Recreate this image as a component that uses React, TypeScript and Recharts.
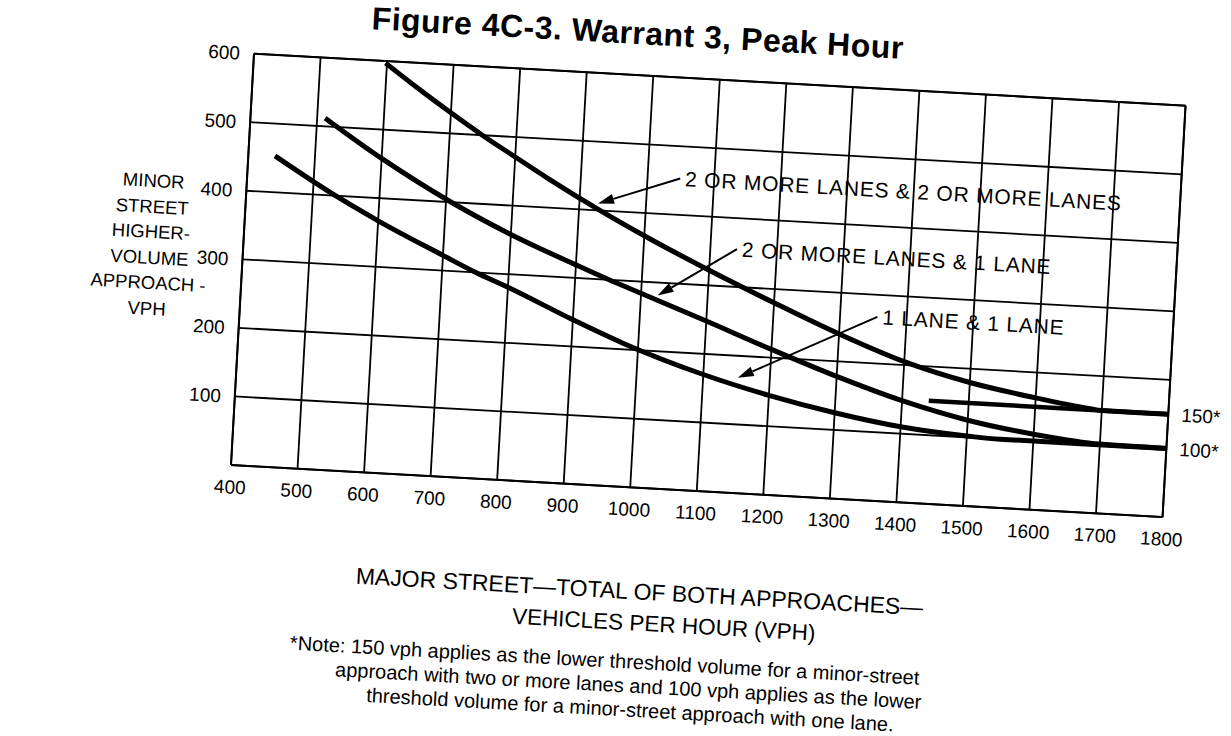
import React from 'react';
import { LineChart, Line, XAxis, YAxis, CartesianGrid, ReferenceLine, ReferenceDot } from 'recharts';

const xTicks = [400, 500, 600, 700, 800, 900, 1000, 1100, 1200, 1300, 1400, 1500, 1600, 1700, 1800];
const yTicks = [100, 200, 300, 400, 500, 600];

const twoPlusTwoPlus = [
  { x: 598, y: 597 }, { x: 650, y: 562 }, { x: 700, y: 530 }, { x: 749, y: 500 }, { x: 800, y: 471 },
  { x: 850, y: 443 }, { x: 932, y: 400 }, { x: 1000, y: 367 }, { x: 1100, y: 322 }, { x: 1200, y: 280 },
  { x: 1300, y: 240 }, { x: 1400, y: 205 }, { x: 1500, y: 180 }, { x: 1600, y: 163 }, { x: 1680, y: 152 },
  { x: 1700, y: 150 }, { x: 1800, y: 150 },
];
const twoPlusOne = [
  { x: 512, y: 512 }, { x: 600, y: 458 }, { x: 708, y: 400 }, { x: 800, y: 358 }, { x: 900, y: 319 },
  { x: 951, y: 300 }, { x: 1000, y: 283 }, { x: 1100, y: 248 }, { x: 1200, y: 212 }, { x: 1300, y: 178 },
  { x: 1400, y: 148 }, { x: 1500, y: 125 }, { x: 1600, y: 110 }, { x: 1700, y: 101 }, { x: 1800, y: 100 },
];
const oneOne = [
  { x: 440, y: 453 }, { x: 534, y: 400 }, { x: 600, y: 367 }, { x: 700, y: 322 }, { x: 750, y: 300 },
  { x: 800, y: 281 }, { x: 900, y: 239 }, { x: 977, y: 209 }, { x: 1100, y: 170 }, { x: 1200, y: 145 },
  { x: 1300, y: 125 }, { x: 1400, y: 110 }, { x: 1500, y: 102 }, { x: 1550, y: 100 }, { x: 1800, y: 100 },
];
const threshold150 = [{ x: 1440, y: 150 }, { x: 1800, y: 150 }];

const annotations = [
  { text: '2 OR MORE LANES & 2 OR MORE LANES', tail: { x: 1049, y: 453 }, tip: { x: 928, y: 410 } },
  { text: '2 OR MORE LANES & 1 LANE', tail: { x: 1140, y: 355 }, tip: { x: 1025, y: 281 } },
  { text: '1 LANE & 1 LANE', tail: { x: 1356, y: 268 }, tip: { x: 1152, y: 168 } },
];
const thresholdLabels = [
  { y: 150, text: '150*' },
  { y: 100, text: '100*' },
];

const yTitle = ['MINOR', 'STREET', 'HIGHER-', 'VOLUME', 'APPROACH -', 'VPH'];
const xTitle = ['MAJOR STREET\u2014TOTAL OF BOTH APPROACHES\u2014', 'VEHICLES PER HOUR (VPH)'];
const note = [
  '*Note: 150 vph applies as the lower threshold volume for a minor-street',
  'approach with two or more lanes and 100 vph applies as the lower',
  'threshold volume for a minor-street approach with one lane.',
];
const title = 'Figure 4C-3.  Warrant 3, Peak Hour';

const FONT = '"Liberation Sans", Arial, Helvetica, sans-serif';

const ArrowShape = (props: any) => {
  const { x1, y1, x2, y2 } = props;
  if ([x1, y1, x2, y2].some((v) => typeof v !== 'number' || isNaN(v))) return null;
  const ang = Math.atan2(y2 - y1, x2 - x1);
  const len = 16;
  const w = 5;
  const bx = x2 - len * Math.cos(ang);
  const by = y2 - len * Math.sin(ang);
  const px = -Math.sin(ang) * w;
  const py = Math.cos(ang) * w;
  return (
    <g>
      <line x1={x1} y1={y1} x2={bx} y2={by} stroke="#000" strokeWidth={2} />
      <polygon points={`${x2},${y2} ${bx + px},${by + py} ${bx - px},${by - py}`} fill="#000" />
    </g>
  );
};

const Txt = ({ x, y, children, size, bold, anchor = 'center', ls = 0 }: any) => (
  <div
    style={{
      position: 'absolute',
      left: x,
      top: y,
      transform: anchor === 'center' ? 'translate(-50%, -50%)' : anchor === 'end' ? 'translate(-100%, -50%)' : 'translate(0, -50%)',
      whiteSpace: 'nowrap',
      fontSize: size,
      fontWeight: bold ? 700 : 400,
      lineHeight: 1,
      letterSpacing: ls,
      fontFamily: FONT,
      color: '#000',
    }}
  >
    {children}
  </div>
);

export default function App() {
  return (
    <div style={{ position: 'absolute', left: 0, top: 0, width: 1231, height: 736, overflow: 'hidden', background: '#fff' }}>
      <div
        style={{
          position: 'absolute',
          left: 0,
          top: 0,
          width: 1231,
          height: 736,
          transform: 'rotate(3.2deg)',
          transformOrigin: '231px 465px',
        }}
      >
        <Txt x={613} y={11} size={32} bold ls={0.5}>{title}</Txt>
        {yTitle.map((t, i) => (
          <Txt key={t} x={138} y={186 + i * 25.5} size={18.5}>{t}</Txt>
        ))}
        <Txt x={646} y={569} size={23}>{xTitle[0]}</Txt>
        <Txt x={672} y={601} size={22.5}>{xTitle[1]}</Txt>
        <Txt x={615} y={639} size={20}>{note[0]}</Txt>
        <Txt x={640} y={663} size={20}>{note[1]}</Txt>
        <Txt x={643} y={687} size={20}>{note[2]}</Txt>
        <LineChart
          width={1231}
          height={736}
          margin={{ top: 53, right: 67, bottom: 231, left: 171 }}
          style={{ position: 'absolute', left: 0, top: 0, fontFamily: FONT }}
        >
          <CartesianGrid stroke="#000" strokeWidth={1.8} />
          <XAxis
            dataKey="x"
            type="number"
            domain={[400, 1800]}
            ticks={xTicks}
            interval={0}
            height={40}
            tickLine={false}
            tickSize={0}
            tickMargin={15}
            axisLine={{ stroke: '#000', strokeWidth: 2 }}
            tick={{ fill: '#000', fontSize: 19, fontFamily: FONT }}
            allowDataOverflow
          />
          <YAxis
            type="number"
            domain={[0, 600]}
            ticks={yTicks}
            interval={0}
            width={60}
            tickLine={false}
            tickSize={0}
            tickMargin={14}
            axisLine={{ stroke: '#000', strokeWidth: 2 }}
            tick={{ fill: '#000', fontSize: 19, fontFamily: FONT }}
            allowDataOverflow
          />
          <ReferenceLine x={1800} stroke="#000" strokeWidth={2} />
          <ReferenceLine y={600} stroke="#000" strokeWidth={2} />
          <Line data={threshold150} dataKey="y" type="linear" stroke="#000" strokeWidth={4.5} dot={false} isAnimationActive={false} />
          <Line data={twoPlusTwoPlus} dataKey="y" type="monotone" stroke="#000" strokeWidth={5} dot={false} isAnimationActive={false} />
          <Line data={twoPlusOne} dataKey="y" type="monotone" stroke="#000" strokeWidth={5} dot={false} isAnimationActive={false} />
          <Line data={oneOne} dataKey="y" type="monotone" stroke="#000" strokeWidth={5} dot={false} isAnimationActive={false} />
          {annotations.map((a) => (
            <ReferenceLine key={a.text + 'l'} segment={[a.tail, a.tip]} shape={ArrowShape} ifOverflow="visible" />
          ))}
          {annotations.map((a) => (
            <ReferenceDot
              key={a.text}
              x={a.tail.x}
              y={a.tail.y}
              r={1}
              fill="none"
              stroke="none"
              ifOverflow="visible"
              label={{ value: a.text, position: 'right', offset: 4, fill: '#000', fontSize: 21, letterSpacing: 0.8, fontFamily: FONT }}
            />
          ))}
          {thresholdLabels.map((t) => (
            <ReferenceDot
              key={t.text}
              x={1800}
              y={t.y}
              r={1}
              fill="none"
              stroke="none"
              ifOverflow="visible"
              label={{ value: t.text, position: 'right', offset: 12, fill: '#000', fontSize: 19, fontFamily: FONT }}
            />
          ))}
        </LineChart>
      </div>
    </div>
  );
}
